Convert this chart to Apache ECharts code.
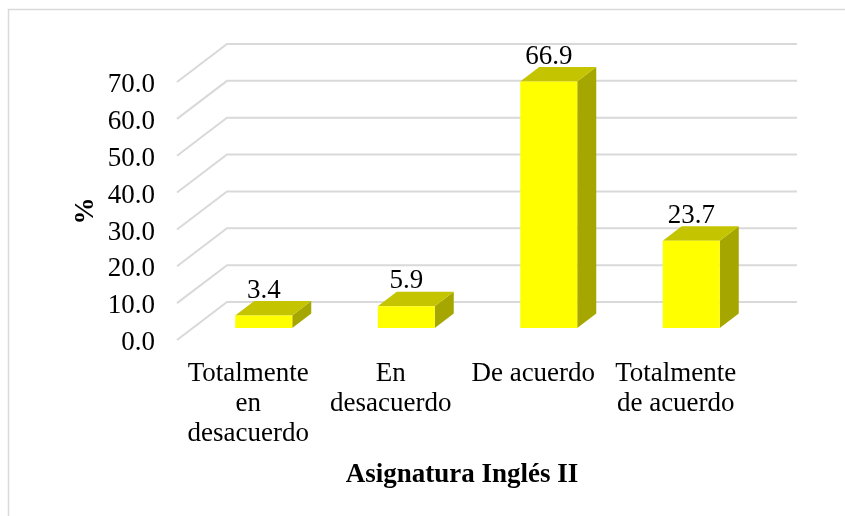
<!DOCTYPE html>
<html>
<head>
<meta charset="utf-8">
<style>
    html, body { margin: 0; padding: 0; background: #fff; }
    #chart { width: 845px; height: 516px; }
</style>
<script src="https://cdn.jsdelivr.net/npm/echarts@6/dist/echarts.min.js"></script>
</head>
<body>
<div id="chart"></div>
<script>
const CATEGORIES = ['Totalmente\nen\ndesacuerdo', 'En\ndesacuerdo', 'De acuerdo', 'Totalmente\nde acuerdo'];
const VALUES = [3.4, 5.9, 66.9, 23.7];
const VALUE_LABELS = ['3.4', '5.9', '66.9', '23.7'];
const TICKS = [0, 10, 20, 30, 40, 50, 60, 70];

const FONT = '"Liberation Serif", "Times New Roman", serif';
const WALL_DX = 50;
const WALL_DY = 38;
const BAR_DX = 19;
const BAR_DY = 14.5;
const BAR_OFFSET_X = 15.5;
const BAR_OFFSET_Y = 12;

function renderWall(params, api) {
    const grid = params.coordSys;
    const y = api.coord([0, api.value(0)])[1];
    return {
        type: 'polyline',
        shape: { points: [
            [grid.x, y],
            [grid.x + WALL_DX, y - WALL_DY],
            [grid.x + grid.width + WALL_DX, y - WALL_DY],
        ] },
        style: { fill: null, stroke: '#d9d9d9', lineWidth: 2 },
    };
}

function renderBar(params, api) {
    const top = api.coord([api.value(0), api.value(1)]);
    const base = api.coord([api.value(0), 0]);
    const w = api.size([1, 0])[0] * 0.4;
    const x0 = top[0] - w / 2 + BAR_OFFSET_X;
    const x1 = x0 + w;
    const y0 = top[1] - BAR_OFFSET_Y;
    const y1 = base[1] - BAR_OFFSET_Y;
    return {
        type: 'group',
        children: [
            {
                type: 'polygon',
                shape: { points: [[x1, y0], [x1 + BAR_DX, y0 - BAR_DY], [x1 + BAR_DX, y1 - BAR_DY], [x1, y1]] },
                style: { fill: '#a6a600' },
            },
            {
                type: 'polygon',
                shape: { points: [[x0, y0], [x0 + BAR_DX, y0 - BAR_DY], [x1 + BAR_DX, y0 - BAR_DY], [x1, y0]] },
                style: { fill: '#c4c400' },
            },
            {
                type: 'rect',
                shape: { x: x0, y: y0, width: w, height: y1 - y0 },
                style: { fill: '#ffff00' },
            },
            {
                type: 'text',
                style: {
                    x: (x0 + x1) / 2,
                    y: y0 - BAR_DY + 3,
                    text: VALUE_LABELS[params.dataIndex],
                    fill: '#000',
                    font: '27px ' + FONT,
                    align: 'center',
                    verticalAlign: 'bottom',
                },
            },
        ],
    };
}

const chart = echarts.init(document.getElementById('chart'));
chart.setOption({
    animation: false,
    backgroundColor: '#fff',
    grid: { left: 177, right: 98, top: 82, bottom: 176 },
    xAxis: {
        type: 'category',
        data: CATEGORIES,
        axisLine: { show: false },
        axisTick: { show: false },
        axisLabel: {
            interval: 0,
            margin: 19,
            color: '#000',
            fontFamily: FONT,
            fontSize: 27,
            lineHeight: 30,
        },
        name: 'Asignatura Inglés II',
        nameLocation: 'middle',
        nameGap: 122,
        nameTextStyle: { color: '#000', fontFamily: FONT, fontSize: 27, fontWeight: 'bold' },
    },
    yAxis: {
        type: 'value',
        min: 0,
        max: 70,
        interval: 10,
        axisLine: { show: false },
        axisTick: { show: false },
        splitLine: { show: false },
        axisLabel: {
            margin: 22,
            verticalAlign: 'top',
            lineHeight: 6,
            color: '#000',
            fontFamily: FONT,
            fontSize: 27,
            formatter: v => v.toFixed(1),
        },
        name: '%',
        nameLocation: 'middle',
        nameGap: 77,
        nameMoveOverlap: false,
        nameTextStyle: { color: '#000', fontFamily: FONT, fontSize: 27, fontWeight: 'bold' },
    },
    graphic: [{
        type: 'polyline',
        silent: true,
        shape: { points: [[8.5, 516], [8.5, 9.5], [845, 9.5]] },
        style: { fill: null, stroke: '#d9d9d9', lineWidth: 1.5 },
    }],
    series: [
        {
            type: 'custom',
            z: 1,
            silent: true,
            renderItem: renderWall,
            encode: { y: 0 },
            data: TICKS.map(t => [t]),
        },
        {
            type: 'custom',
            z: 2,
            renderItem: renderBar,
            encode: { x: 0, y: 1 },
            data: VALUES.map((v, i) => [i, v]),
        },
    ],
});
</script>
</body>
</html>
